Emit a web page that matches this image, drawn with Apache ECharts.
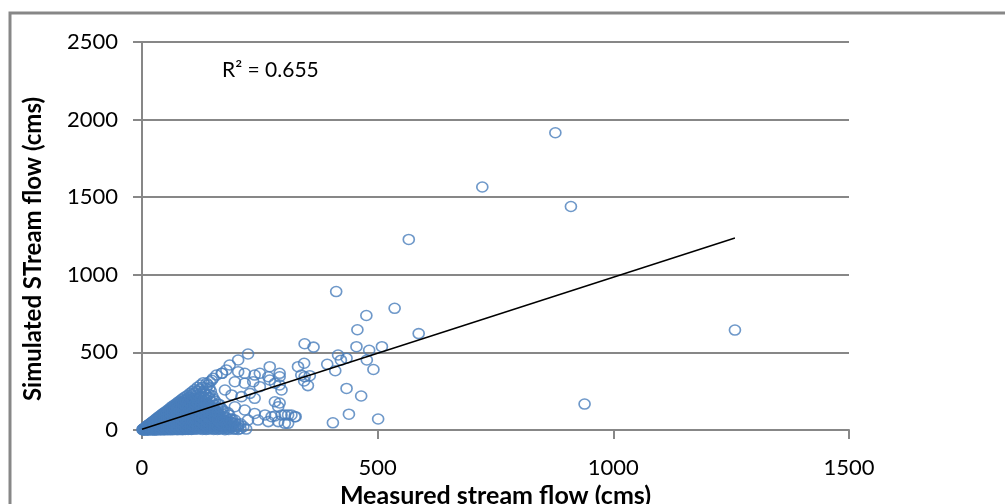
<!DOCTYPE html>
<html>
<head>
<meta charset="utf-8">
<title>Measured vs simulated stream flow</title>
<script src="https://cdn.jsdelivr.net/npm/echarts@6/dist/echarts.min.js"></script>
<style>
  html, body { margin: 0; padding: 0; background: #ffffff; }
  #chart { width: 1005px; height: 504px; }
</style>
</head>
<body>
<div id="chart"></div>
<script>
// Daily flows, [measured, simulated] in cms.
// Low flows near the origin (dense wedge).
const lowFlowPoints = [
  [2,1],[2,4],[4,0],[4,7],[5,3],[5,10],[7,1],[7,12],[7,6],[9,3],[9,17],[9,9],
  [11,0],[11,22],[11,13],[11,6],[13,4],[13,27],[13,16],[15,1],[15,9],[15,20],[15,32],
  [18,3],[18,14],[18,26],[18,39],[20,7],[20,33],[20,44],[20,19],
  [23,1],[23,12],[23,25],[23,38],[23,50],[26,5],[26,18],[26,31],[26,45],[26,57],
  [29,2],[29,22],[29,40],[29,62],[29,11],[32,8],[32,29],[32,51],[32,70],[32,17],
  [35,1],[35,14],[35,36],[35,58],[35,77],[38,6],[38,24],[38,45],[38,66],[38,84],
  [41,3],[41,18],[41,33],[41,55],[41,90],[41,72],[44,9],[44,27],[44,47],[44,63],[44,80],[44,97],
  [47,2],[47,20],[47,38],[47,58],[47,75],[47,104],[50,12],[50,31],[50,52],[50,70],[50,88],[50,110],
  [54,4],[54,24],[54,44],[54,64],[54,95],[54,118],[54,80],
  [58,15],[58,35],[58,56],[58,75],[58,104],[58,127],
  [62,1],[62,27],[62,48],[62,68],[62,90],[62,113],[62,135],
  [66,10],[66,38],[66,60],[66,82],[66,100],[66,143],
  [70,3],[70,22],[70,50],[70,74],[70,96],[70,122],[70,150],
  [74,14],[74,36],[74,62],[74,88],[74,110],[74,160],
  [78,6],[78,28],[78,52],[78,78],[78,104],[78,132],[78,168],
  [82,18],[82,44],[82,66],[82,94],[82,120],[82,176],
  [86,2],[86,32],[86,58],[86,84],[86,112],[86,145],[86,184],
  [90,12],[90,40],[90,72],[90,100],[90,130],[90,160],[90,192],
  [95,5],[95,26],[95,54],[95,88],[95,118],[95,150],[95,200],
  [100,16],[100,44],[100,66],[100,106],[100,138],[100,172],[100,212],
  [105,3],[105,30],[105,58],[105,92],[105,124],[105,190],[105,225],
  [110,20],[110,48],[110,78],[110,112],[110,150],[110,205],[110,236],
  [116,8],[116,36],[116,64],[116,98],[116,135],[116,172],[116,248],
  [122,24],[122,52],[122,88],[122,122],[122,160],[122,215],[122,262],
  [128,4],[128,40],[128,74],[128,108],[128,148],[128,190],[128,275],
  [134,14],[134,30],[134,60],[134,96],[134,130],[134,232],
  [140,6],[140,46],[140,82],[140,118],[140,170],[140,290],
  [146,22],[146,36],[146,68],[146,104],[146,250],
  [152,4],[152,50],[152,88],[152,140],[152,200],
  [158,16],[158,30],[158,72],[158,118],[158,354],
  [164,8],[164,44],[164,98],[164,165],
  [170,24],[170,60],[170,135],[170,365],
  [176,2],[176,36],[176,84],[176,258],
  [182,14],[182,48],[182,112],
  [188,28],[188,70],[194,6],[194,40]
];

// More low-flow days, filling the same wedge.
const lowFlowPointsB = [
  [3,5],[6,4],[6,13],[8,10],[8,19],[10,4],[10,16],[10,24],[12,9],[12,20],[12,29],
  [14,2],[14,13],[14,24],[14,34],[16,6],[16,17],[16,28],[16,38],
  [19,9],[19,22],[19,34],[19,45],[21,2],[21,14],[21,27],[21,40],[21,50],
  [24,8],[24,20],[24,34],[24,46],[24,57],[27,1],[27,12],[27,26],[27,39],[27,52],[27,64],
  [30,6],[30,17],[30,30],[30,46],[30,58],[30,72],[33,3],[33,12],[33,24],[33,40],[33,62],[33,79],
  [36,8],[36,20],[36,30],[36,47],[36,68],[36,86],[39,1],[39,14],[39,34],[39,54],[39,76],[39,93],
  [42,6],[42,25],[42,42],[42,63],[42,82],[42,100],
  [45,2],[45,15],[45,34],[45,54],[45,72],[45,90],[45,107],
  [48,8],[48,28],[48,46],[48,66],[48,84],[48,98],[48,114],
  [52,1],[52,18],[52,38],[52,58],[52,76],[52,102],[52,122],
  [56,9],[56,30],[56,50],[56,70],[56,90],[56,112],[56,132],
  [60,4],[60,22],[60,42],[60,62],[60,84],[60,98],[60,120],[60,142],
  [64,14],[64,34],[64,56],[64,76],[64,106],[64,128],[64,152],
  [68,4],[68,26],[68,46],[68,68],[68,90],[68,112],[68,134],[68,160],
  [72,10],[72,32],[72,58],[72,84],[72,104],[72,138],[72,168],
  [76,2],[76,22],[76,46],[76,70],[76,96],[76,120],[76,146],[76,178],
  [80,12],[80,36],[80,60],[80,86],[80,112],[80,150],[80,186],
  [84,6],[84,26],[84,50],[84,76],[84,102],[84,130],[84,160],[84,196],
  [88,20],[88,46],[88,70],[88,96],[88,122],[88,150],[88,206],
  [92,4],[92,28],[92,56],[92,86],[92,112],[92,142],[92,176],[92,214],
  [97,14],[97,40],[97,72],[97,100],[97,130],[97,166],[97,224],
  [102,6],[102,30],[102,56],[102,88],[102,120],[102,156],[102,194],[102,236],
  [107,16],[107,44],[107,72],[107,104],[107,140],[107,170],[107,248],
  [112,6],[112,34],[112,62],[112,94],[112,130],[112,184],[112,260],
  [118,20],[118,50],[118,80],[118,114],[118,152],[118,200],[118,276],
  [124,10],[124,38],[124,68],[124,104],[124,140],[124,180],[124,236],[124,290],
  [130,22],[130,56],[130,92],[130,124],[130,162],[130,210],[130,305],
  [136,4],[136,44],[136,78],[136,112],[136,150],[136,200],[136,268],
  [142,18],[142,32],[142,62],[142,100],[142,140],[142,230],
  [148,8],[148,48],[148,86],[148,124],[148,180],[148,320],
  [154,26],[154,66],[154,108],[154,160],[160,4],[160,52],[160,88],[160,140],
  [166,20],[166,32],[166,74],[172,10],[172,44],[172,100],
  [178,22],[178,58],[184,4],[184,32],[190,16],[190,50],[198,22],[204,4],[204,36]
];

// Further low-flow days in the core of the wedge.
const lowFlowPointsC = [
  [1,3],[3,2],[3,8],[5,6],[6,9],[7,15],[8,4],[8,14],[9,6],[9,20],[10,12],[11,18],[11,27],
  [12,2],[12,14],[13,10],[13,22],[14,7],[14,18],[14,30],[15,14],[15,26],[16,11],[16,23],
  [17,4],[17,16],[17,30],[18,8],[18,20],[18,33],[19,3],[19,16],[19,28],[20,12],[20,25],[20,38],
  [21,8],[21,20],[21,34],[22,4],[22,18],[22,30],[22,44],[23,6],[23,18],[23,31],[23,44],
  [25,10],[25,24],[25,38],[25,52],[26,0],[26,12],[26,25],[26,38],[26,50],
  [28,6],[28,16],[28,30],[28,46],[28,60],[31,2],[31,12],[31,24],[31,38],[31,56],[31,66],
  [34,6],[34,20],[34,32],[34,48],[34,66],[37,12],[37,26],[37,42],[37,56],[37,74],
  [40,4],[40,22],[40,38],[40,50],[40,66],[40,82],[43,12],[43,32],[43,52],[43,70],[43,88],
  [46,6],[46,26],[46,44],[46,64],[46,80],[46,96],[49,16],[49,36],[49,56],[49,76],[49,94],[49,108],
  [53,10],[53,28],[53,48],[53,68],[53,86],[53,108],[57,4],[57,22],[57,42],[57,62],[57,82],[57,100],[57,120],
  [61,12],[61,34],[61,54],[61,76],[61,104],[61,126],[65,4],[65,24],[65,44],[65,66],[65,92],[65,116],[65,138],
  [69,14],[69,36],[69,58],[69,80],[69,102],[69,124],[69,146],[73,4],[73,24],[73,48],[73,72],[73,96],[73,120],[73,150],
  [77,14],[77,38],[77,60],[77,86],[77,110],[77,138],[77,160],[81,4],[81,28],[81,52],[81,76],[81,102],[81,128],[81,164],
  [85,14],[85,40],[85,66],[85,92],[85,120],[85,150],[85,176],[89,6],[89,30],[89,58],[89,84],[89,110],[89,140],[89,170],
  [93,16],[93,44],[93,70],[93,100],[93,126],[93,158],[93,190],[98,4],[98,30],[98,58],[98,84],[98,114],[98,146],[98,182],
  [103,18],[103,42],[103,70],[103,104],[103,136],[103,172],[103,208],[108,6],[108,32],[108,60],[108,90],[108,122],[108,158],[108,196],
  [113,20],[113,48],[113,76],[113,110],[113,146],[113,168],[113,220],[119,6],[119,34],[119,66],[119,96],[119,132],[119,176],[119,228],
  [125,24],[125,54],[125,86],[125,120],[125,160],[125,204],[131,8],[131,38],[131,72],[131,106],[131,144],[131,186],[131,250],
  [137,26],[137,58],[137,92],[137,130],[137,172],[137,222],[143,8],[143,46],[143,80],[143,118],[143,160],[143,206],[143,270],
  [149,30],[149,62],[149,104],[149,150],[149,220],[155,10],[155,40],[155,84],[155,126],[155,186],
  [161,24],[161,64],[161,110],[161,168],[167,6],[167,48],[167,90],[167,140],[173,30],[173,64],[173,120],
  [179,8],[179,40],[179,76],[185,18],[185,56],[185,96],[191,32],[191,70],[197,6],[197,44],
  [203,20],[209,8],[209,40],[215,22],[221,6]
];

// Moderate flows, scattered circles.
const midFlowPoints = [
  [225,490],[204,451],[186,419],[179,387],[169,365],[151,333],[144,311],[137,301],
  [271,408],[292,365],[268,343],[250,365],[239,354],[204,376],[218,365],
  [197,311],[218,301],[236,311],[250,279],[282,301],[271,322],[296,258],[338,354],
  [190,226],[211,215],[229,236],[239,204],[282,182],[289,150],
  [197,150],[218,129],[239,107],[261,97],[275,86],[282,90],[310,97],[324,86],
  [169,64],[197,64],[225,64],[246,64],[268,54],[289,54],[310,43],
  [345,556],[364,534],[455,537],[482,514],[509,537],[416,483],[434,462],[422,450],
  [477,451],[393,423],[331,408],[344,430],[410,382],[491,390],[345,343],[356,350],
  [344,316],[352,286],[292,290],[292,343],[292,174],[303,97],[317,97],[326,86],
  [296,97],[303,43],[434,268],[465,219],[439,102],[501,71],[405,46]
];

// High flows.
const highFlowPoints = [
  [877,1915],[722,1566],[910,1440],[566,1228],[412,892],[536,784],[476,738],
  [457,646],[587,621],[1258,644],[939,167]
];

// Linear trend line end points and its fit statistic.
const trendMeasured = [0, 1258];
const trendSimulated = [5, 1237];
const rSquaredText = 'R² = 0.655';

const xTicks = [0, 500, 1000, 1500];
const yTicks = [0, 500, 1000, 1500, 2000, 2500];

const allPoints = lowFlowPoints.concat(lowFlowPointsB, lowFlowPointsC, midFlowPoints, highFlowPoints);
const trendData = trendMeasured.map((m, i) => [m, trendSimulated[i]]);

const FONT = 'Lato';
const GRAY = '#878787';
const plainNumber = (v) => String(v);

const chart = echarts.init(document.getElementById('chart'), null, { renderer: 'canvas' });

chart.setOption({
  backgroundColor: '#ffffff',
  animation: false,
  grid: { left: 142, right: 156, top: 42, bottom: 74, containLabel: false, outerBoundsMode: 'none' },
  xAxis: {
    type: 'value',
    min: xTicks[0],
    max: xTicks[xTicks.length - 1],
    interval: xTicks[1] - xTicks[0],
    name: 'Measured stream flow (cms)',
    nameLocation: 'middle',
    nameGap: 49,
    nameTextStyle: { fontFamily: FONT, fontWeight: 'bold', fontSize: 25, color: '#000' },
    axisLine: { show: true, lineStyle: { color: GRAY, width: 2 } },
    axisTick: { show: true, inside: false, length: 9, lineStyle: { color: GRAY, width: 2 } },
    axisLabel: { margin: 27, fontFamily: FONT, fontSize: 22, color: '#000', formatter: plainNumber },
    splitLine: { show: false }
  },
  yAxis: {
    type: 'value',
    min: yTicks[0],
    max: yTicks[yTicks.length - 1],
    interval: yTicks[1] - yTicks[0],
    name: 'Simulated STream flow (cms)',
    nameLocation: 'middle',
    nameGap: 97,
    nameTextStyle: { fontFamily: FONT, fontWeight: 'bold', fontSize: 24, color: '#000', padding: [0, 26, 0, 0] },
    axisLine: { show: true, lineStyle: { color: GRAY, width: 2 } },
    axisTick: { show: true, inside: false, length: 9, lineStyle: { color: GRAY, width: 2 } },
    axisLabel: { margin: 24, fontFamily: FONT, fontSize: 22, color: '#000', formatter: plainNumber },
    splitLine: { show: true, lineStyle: { color: GRAY, width: 2 } }
  },
  series: [
    {
      type: 'scatter',
      data: allPoints,
      symbol: 'circle',
      symbolSize: [11, 10],
      large: false,
      itemStyle: { color: 'rgba(255,255,255,0)', borderColor: '#4a7ebb', borderWidth: 1.6 },
      z: 2
    },
    {
      type: 'line',
      data: trendData,
      showSymbol: false,
      symbol: 'none',
      lineStyle: { color: '#000', width: 1.4 },
      z: 3
    }
  ],
  graphic: [
    {
      type: 'rect',
      shape: { x: 10, y: 13, width: 1200, height: 700 },
      style: { fill: null, stroke: GRAY, lineWidth: 3 },
      silent: true,
      z: 0
    },
    {
      type: 'text',
      left: 222,
      top: 60,
      style: { text: rSquaredText, fontFamily: FONT, fontSize: 21, fill: '#000' },
      z: 5
    }
  ]
});
</script>
</body>
</html>
